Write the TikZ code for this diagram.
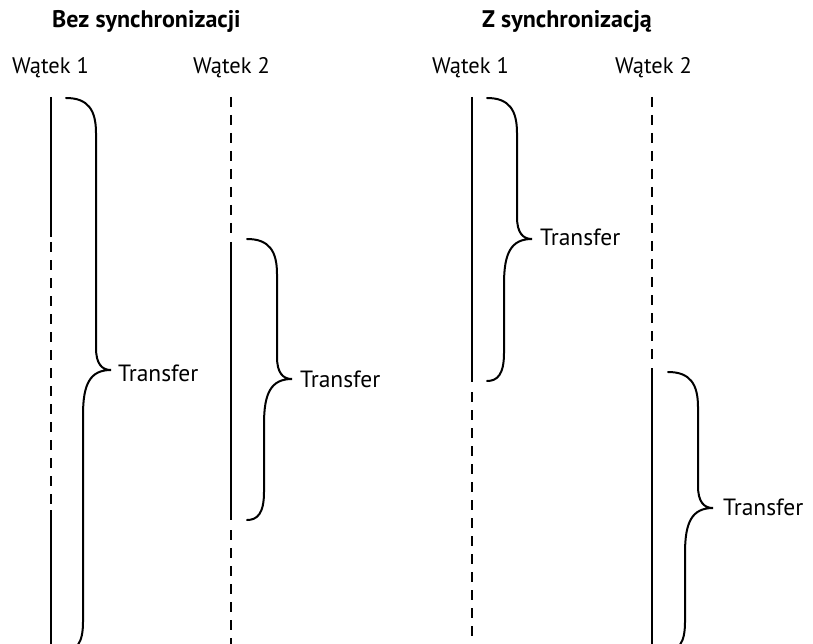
\documentclass[tikz,border=0pt]{standalone}
\usepackage{fontspec}
\setmainfont{PT Sans}
\begin{document}
\begin{tikzpicture}[x=1pt,y=-1pt,
  thr/.style={line width=2pt},
  thrd/.style={line width=2pt,dash pattern=on 10pt off 8pt},
  brc/.style={line width=2pt,line cap=round},
  ttl/.style={font=\fontsize{24}{28}\selectfont\bfseries,anchor=base west,inner sep=0},
  lab/.style={font=\fontsize{22.5}{26}\selectfont,anchor=base west,inner sep=0},
  tr/.style={font=\fontsize{23.5}{27}\selectfont,anchor=base west,inner sep=0}]
\useasboundingbox (0,0) rectangle (813,644);
\newcommand\mybrace[4]{% x0, ytop, ybottom, ytip
  \draw[brc] (#1,#2) .. controls ({#1+22},#2) and ({#1+30},{#2+12}) .. ({#1+30},{#2+35})
    -- ({#1+30},{#4-22}) .. controls ({#1+30},{#4-6}) and ({#1+36},#4) .. ({#1+45},#4)
    .. controls ({#1+24},#4) and ({#1+17},{#4+14}) .. ({#1+17},{#4+45})
    -- ({#1+17},{#3-28}) .. controls ({#1+17},{#3-6}) and ({#1+10},#3) .. (#1,#3);}
% titles
\node[ttl] (t1) at (52,28) {Bez synchronizacji};
\node[ttl] (t2) at (482,28) {Z synchronizacją};
\node[lab] (l1) at (12,74) {Wątek 1};
\node[lab] (l2) at (193,74) {Wątek 2};
\node[lab] (l3) at (432,74) {Wątek 1};
\node[lab] (l4) at (615,74) {Wątek 2};
% left panel thread 1
\coordinate (a0) at (51,97); \coordinate (a1) at (51,237);
\coordinate (a2) at (51,510); \coordinate (a3) at (51,650);
\draw[thr] (a0) -- (a1);
\draw[thrd] (51,242) -- (51,505);
\draw[thr] (a2) -- (a3);
% left panel thread 2
\draw[thrd] (231,97) -- (231,235);
\draw[thr] (231,242) -- (231,520);
\draw[thrd] (231,530) -- (231,650);
% right panel thread 1
\draw[thr] (472,97) -- (472,382);
\draw[thrd] (472,392) -- (472,650);
% right panel thread 2
\draw[thrd] (652,97) -- (652,362);
\draw[thr] (652,368) -- (652,650);
% braces
\mybrace{66}{98}{650}{370}
\mybrace{247}{239}{520}{379}
\mybrace{487}{98}{381}{239}
\mybrace{668}{372}{650}{508}
\node[tr] (x1) at (118,381) {Transfer};
\node[tr] (x2) at (300,387) {Transfer};
\node[tr] (x3) at (540,246) {Transfer};
\node[tr] (x4) at (723,515) {Transfer};
\end{tikzpicture}
\end{document}
